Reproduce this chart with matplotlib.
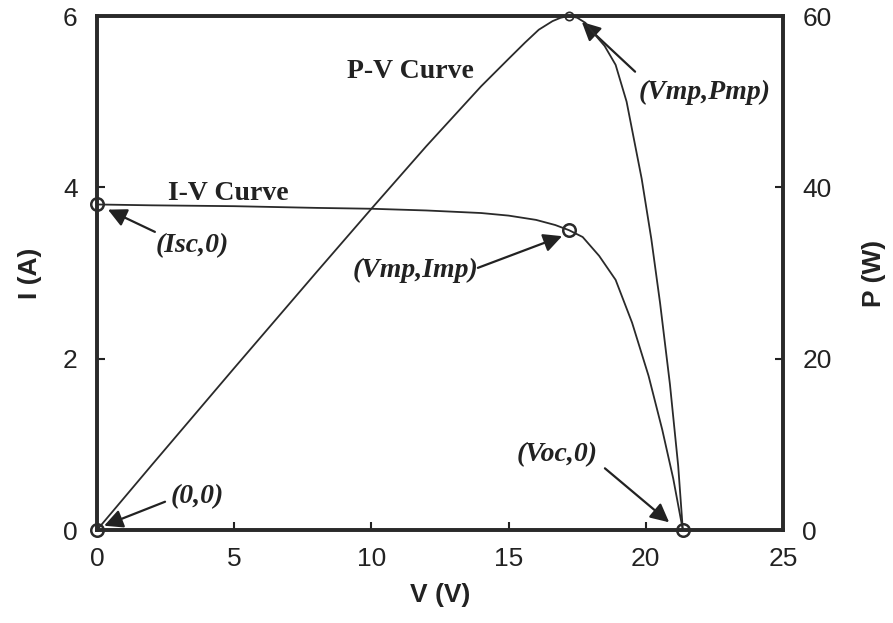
import matplotlib
matplotlib.use("Agg")
import matplotlib.pyplot as plt

# I-V curve
iv_v = [0, 2, 5, 8, 10, 12, 14, 15, 16, 16.7, 17.2, 17.7, 18.3, 18.9, 19.5, 20.1, 20.6, 21.0, 21.35]
iv_i = [3.80, 3.79, 3.78, 3.76, 3.75, 3.73, 3.70, 3.67, 3.62, 3.56, 3.50, 3.42, 3.20, 2.92, 2.42, 1.80, 1.17, 0.60, 0.0]

# P-V curve
pv_v = [0, 2, 5, 8, 10, 12, 14, 15, 15.6, 16.1, 16.6, 16.9, 17.2, 17.5, 17.8, 18.1, 18.5, 18.9, 19.3, 19.85, 20.2, 20.52, 20.88, 21.18, 21.35]
pv_p = [0, 7.6, 18.9, 30.1, 37.5, 44.8, 51.8, 55.0, 56.9, 58.4, 59.4, 59.8, 60.0, 59.8, 59.2, 58.0, 56.5, 54.3, 50.0, 41.0, 34.0, 26.5, 17.0, 7.5, 0]

# key points
key_v = [0, 17.2, 21.35, 0]
key_i = [3.80, 3.50, 0.0, 0.0]
pmp_v = [17.2]
pmp_p = [60.0]

x_ticks = [0, 5, 10, 15, 20, 25]
i_ticks = [0, 2, 4, 6]
p_ticks = [0, 20, 40, 60]

W, H = 893, 623
fig = plt.figure(figsize=(W / 100, H / 100), dpi=100)
ax = fig.add_axes([97 / W, 1 - 530 / H, (783 - 97) / W, (530 - 16) / H])
ax2 = ax.twinx()

lc = '#2a2a2a'
ax.plot(iv_v, iv_i, color=lc, lw=1.3, zorder=3)
ax2.plot(pv_v, pv_p, color=lc, lw=1.3, zorder=3)
ax.plot(key_v, key_i, 'o', mfc='none', mec=lc, mew=1.8, ms=9, zorder=4, clip_on=False)
ax2.plot(pmp_v, pmp_p, 'o', mfc='none', mec=lc, mew=1.2, ms=6, zorder=4, clip_on=False)

ax.set_xlim(0, 25)
ax.set_ylim(0, 6)
ax2.set_ylim(0, 60)
ax.set_xticks(x_ticks)
ax.set_yticks(i_ticks)
ax2.set_yticks(p_ticks)

for a in (ax, ax2):
    a.tick_params(direction='in', length=6, width=1.5, pad=12, labelsize=19, colors='#222222')
    for lab in a.get_xticklabels() + a.get_yticklabels():
        lab.set_fontfamily('Liberation Sans')
    for s in a.spines.values():
        s.set_linewidth(2.6)
        s.set_color('#2a2a2a')
ax.tick_params(axis='y', pad=14)
ax2.tick_params(axis='y', pad=14)

lab_font = dict(family='Liberation Sans', size=19, fontweight='bold', color='#222222')
ax.set_xlabel('V (V)', labelpad=9, **lab_font)
ax.set_ylabel('I (A)', labelpad=15, **lab_font)
ax2.set_ylabel('P (W)', labelpad=22, rotation=90, **lab_font)

ann_font = dict(family='Liberation Serif', size=20, fontweight='bold', style='italic', color='#222222')
arrow = dict(arrowstyle='-|>', mutation_scale=28, lw=1.6, color='#222222', shrinkA=0, shrinkB=0)

notes = [
    ('(Isc,0)', (3.46, 3.32), (2.11, 3.48), (0.40, 3.74)),
    ('(Vmp,Imp)', (11.59, 3.03), (13.88, 3.06), (16.95, 3.43)),
    ('(Vmp,Pmp)', (22.16, 5.11), (19.61, 5.35), (17.67, 5.93)),
    ('(Voc,0)', (16.76, 0.875), (18.51, 0.72), (20.85, 0.09)),
    ('(0,0)', (3.64, 0.385), (2.48, 0.33), (0.26, 0.05)),
]
for txt, tpos, a0, a1 in notes:
    ax.text(tpos[0], tpos[1], txt, ha='center', va='center', zorder=6, **ann_font)
    ax.annotate('', xy=a1, xytext=a0, arrowprops=arrow, zorder=6)

curve_font = dict(family='Liberation Serif', size=20, fontweight='bold', color='#222222')
ax.text(4.77, 3.93, 'I-V Curve', ha='center', va='center', **curve_font)
ax.text(11.41, 5.35, 'P-V Curve', ha='center', va='center', **curve_font)

fig.savefig('out.png', dpi=100)
